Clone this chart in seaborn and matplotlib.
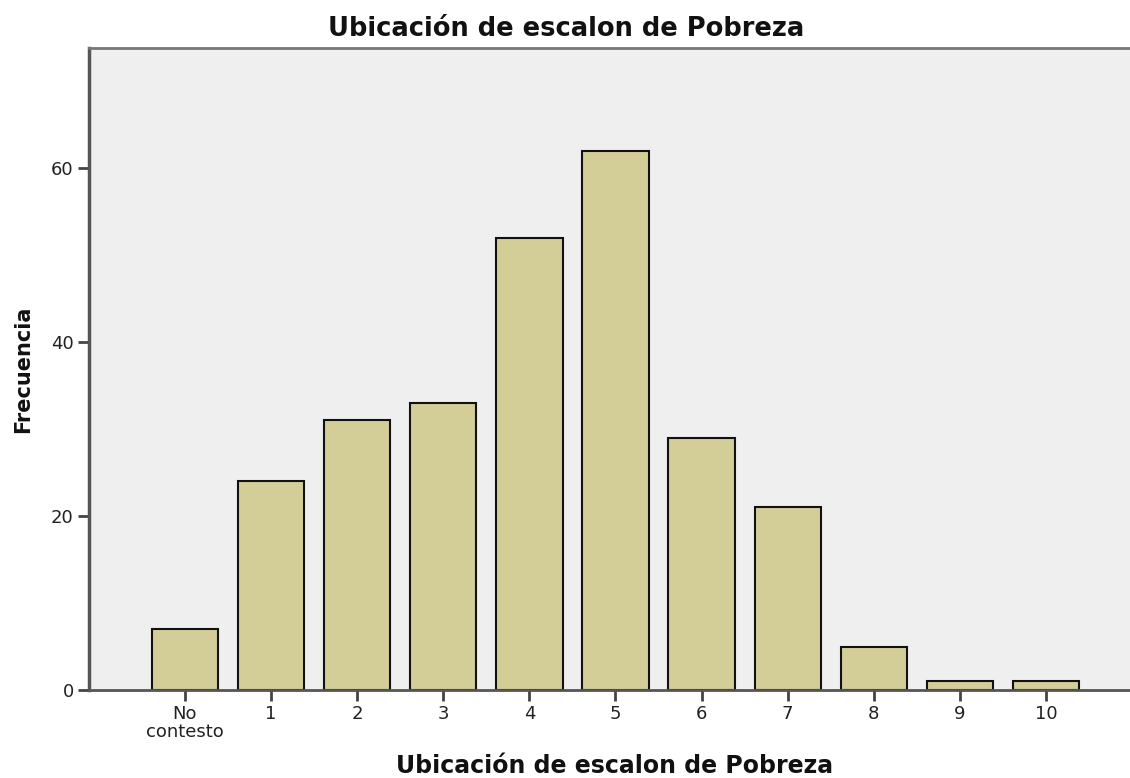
import matplotlib
matplotlib.use("Agg")
import matplotlib.pyplot as plt
import seaborn as sns
import pandas as pd

categories = ["No\ncontesto", "1", "2", "3", "4", "5", "6", "7", "8", "9", "10"]
frequencies = [7, 24, 31, 33, 52, 62, 29, 21, 5, 1, 1]
yticks = [0, 20, 40, 60]

sns.set_theme(style="white")
plt.rcParams['font.family'] = ['DejaVu Sans']

df = pd.DataFrame({"cat": categories, "freq": frequencies})

fig = plt.figure(figsize=(11.3, 7.78), dpi=100)
ax = fig.add_axes([89/1130, 1 - 690/778, 1 - 89/1130, (690 - 48)/778])

sns.barplot(data=df, x="cat", y="freq", order=categories, color="#d3ce97",
            saturation=1, edgecolor="#111111", linewidth=1.5, width=0.77, ax=ax)

ax.set_facecolor("#efefef")
ax.set_xlim(-1.115, 10.976)
ax.set_ylim(0, 73.8)
ax.set_yticks(yticks)
ax.set_yticklabels([str(v) for v in yticks])

ax.spines["right"].set_visible(False)
ax.spines["top"].set_color("#777777")
ax.spines["top"].set_linewidth(2)
ax.spines["left"].set_color("#555555")
ax.spines["left"].set_linewidth(2.5)
ax.spines["bottom"].set_color("#555555")
ax.spines["bottom"].set_linewidth(2)

ax.tick_params(axis="both", direction="out", length=8, width=2, color="#444444",
               labelsize=13, labelcolor="#222222", pad=3)
ax.tick_params(axis="x", bottom=True)
ax.tick_params(axis="y", left=True)
for lab in ax.get_xticklabels():
    lab.set_linespacing(0.95)

ax.set_xlabel("Ubicación de escalon de Pobreza", fontsize=17, fontweight="bold", color="#111111")
ax.xaxis.set_label_coords(0.505, -0.099)
ax.set_ylabel("Frecuencia", fontsize=15, fontweight="bold", color="#111111")
ax.yaxis.set_label_coords(-0.054, 0.5)
ax.set_title("Ubicación de escalon de Pobreza", fontsize=18.5, fontweight="bold",
             color="#111111", x=0.458, pad=9)

fig.savefig("out.png", dpi=100)
